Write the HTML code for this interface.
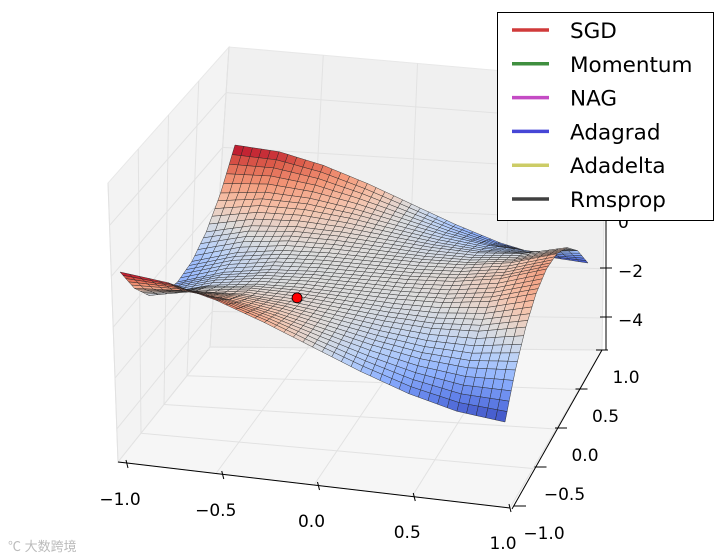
<!DOCTYPE html>
<html><head><meta charset="utf-8"><style>
html,body{margin:0;padding:0;background:#fff;}
svg{display:block;font-family:"DejaVu Sans","Liberation Sans",sans-serif;}
</style></head><body>
<svg id="chart" width="720" height="557" viewBox="0 0 720 557">
<g id="panes"></g>
<g id="surface"></g>
<g id="axes"></g>
<g id="legend"></g>
<text x="8" y="551" font-size="13" fill="#bbb" font-family="'Liberation Sans','Noto Sans CJK SC',sans-serif">℃ 大数跨境</text>
</svg>
<script>
// ---- data ----
const xTicks = [-1.0, -0.5, 0.0, 0.5, 1.0];
const yTicks = [-1.0, -0.5, 0.0, 0.5, 1.0];
const zTicks = [-4, -2, 0];
const gridX = [-1, -0.75, -0.5, -0.25, 0, 0.25, 0.5, 0.75, 1];
const gridY = [-1, -0.75, -0.5, -0.25, 0, 0.25, 0.5, 0.75, 1];
// surface heights: rows = gridY, cols = gridX
const zRowEdge = [2, 1.828, 1.375, 0.734, 0, -0.734, -1.375, -1.828, -2];
const zRow075 = [0.688, 0.844, 0.719, 0.406, 0, -0.406, -0.719, -0.844, -0.688];
const zRow050 = [-0.25, 0.141, 0.25, 0.172, 0, -0.172, -0.25, -0.141, 0.25];
const zRow025 = [-0.813, -0.281, -0.031, 0.031, 0, -0.031, 0.031, 0.281, 0.813];
const zRow000 = [-1, -0.422, -0.125, -0.016, 0, 0.016, 0.125, 0.422, 1];
const zGrid = [zRowEdge, zRow075, zRow050, zRow025, zRow000, zRow025, zRow050, zRow075, zRowEdge];
const pointX = [-0.235];
const pointY = [-0.42];
const pointZ = [0.11];
const legendLabels = ["SGD", "Momentum", "NAG", "Adagrad", "Adadelta", "Rmsprop"];
const legendColors = ["#d03a3a", "#3f8f3f", "#c44bc4", "#4646d6", "#cccc66", "#404040"];

const NS = "http://www.w3.org/2000/svg";
function mk(tag, attrs, parent) {
  const e = document.createElementNS(NS, tag);
  for (const k in attrs) e.setAttribute(k, attrs[k]);
  parent.appendChild(e);
  return e;
}
// projection for surface (with mild perspective cross term)
function proj(x, y, z) {
  return [362 + 184.5 * x + 49.5 * y - 8 * x * y, 275.5 + 18 * x - 71.5 * y - 8 * x * y - 24.5 * z];
}
function lerp(a, b, t) { return [a[0] + (b[0] - a[0]) * t, a[1] + (b[1] - a[1]) * t]; }

// ---- panes ----
const panes = document.getElementById("panes");
const FL = [118, 462], FR = [510, 508], BR = [602, 350], BL = [210, 347];
const TLf = [108, 183], TLb = [229, 47], TRb = [606, 80];
const pl = mk("polygon", {points: [FL, TLf, TLb, BL].map(p => p.join(",")).join(" "), fill: "#f3f3f3", stroke: "#e8e8e8"}, panes);


const pb = mk("polygon", {points: [BL, TLb, TRb, BR].map(p => p.join(",")).join(" "), fill: "#f0f0f0", stroke: "#e8e8e8"}, panes);


const pf = mk("polygon", {points: [FL, FR, BR, BL].map(p => p.join(",")).join(" "), fill: "#f6f6f6", stroke: "#e8e8e8"}, panes);


function gl(a, b, name) {
  const l = mk("line", {x1: a[0], y1: a[1], x2: b[0], y2: b[1], stroke: "#e2e2e2", "stroke-width": 1}, panes);
  
  
}
const ZMIN = -5.3, ZMAX = 5.67;
xTicks.forEach(v => {
  const t = (v + 1) / 2;
  gl(lerp(FL, FR, t), lerp(BL, BR, t), "floor-gridline-x");
  gl(lerp(BL, BR, t), lerp(TLb, TRb, t), "back-gridline-x");
});
yTicks.forEach(v => {
  const t = (v + 1) / 2;
  gl(lerp(FL, BL, t), lerp(FR, BR, t), "floor-gridline-y");
  gl(lerp(FL, BL, t), lerp(TLf, TLb, t), "left-gridline-y");
});
[-4, -2, 0, 2, 4].forEach(v => {
  const f = (v - ZMIN) / (ZMAX - ZMIN);
  const pBL = lerp(BL, TLb, f), pBR = lerp(BR, TRb, f), pFL = lerp(FL, TLf, f);
  gl(pBL, pBR, "back-gridline-z");
  gl(pFL, pBL, "left-gridline-z");
});

// ---- surface ----
function zAt(x, y) {
  const n = gridX.length - 1;
  let fi = (x - gridX[0]) / (gridX[n] - gridX[0]) * n;
  let fj = (y - gridY[0]) / (gridY[n] - gridY[0]) * n;
  let i = Math.min(Math.floor(fi), n - 1), j = Math.min(Math.floor(fj), n - 1);
  const u = fi - i, v = fj - j;
  return zGrid[j][i] * (1 - u) * (1 - v) + zGrid[j][i + 1] * u * (1 - v) +
         zGrid[j + 1][i] * (1 - u) * v + zGrid[j + 1][i + 1] * u * v;
}
const cmapStops = [[59,76,192],[98,130,234],[141,176,254],[184,208,249],[221,221,221],[245,196,173],[244,154,123],[222,96,76],[180,4,38]];
function cmap(t) {
  t = Math.max(0, Math.min(1, t)) * (cmapStops.length - 1);
  const i = Math.min(Math.floor(t), cmapStops.length - 2), f = t - i;
  const a = cmapStops[i], b = cmapStops[i + 1];
  return "rgb(" + [0,1,2].map(k => Math.round(a[k] + (b[k] - a[k]) * f)).join(",") + ")";
}
const surf = document.getElementById("surface");
const N = 40;
const cells = [];
for (let j = 0; j < N; j++) {
  for (let i = 0; i < N; i++) {
    const x0 = -1 + 2 * i / N, x1 = -1 + 2 * (i + 1) / N;
    const y0 = -1 + 2 * j / N, y1 = -1 + 2 * (j + 1) / N;
    const c = [[x0, y0], [x1, y0], [x1, y1], [x0, y1]].map(p => [p[0], p[1], zAt(p[0], p[1])]);
    const zm = (c[0][2] + c[1][2] + c[2][2] + c[3][2]) / 4;
    const xm = (x0 + x1) / 2, ym = (y0 + y1) / 2;
    cells.push({c: c, zm: zm, depth: 78 * ym - 22 * xm - 4 * zm});
  }
}
cells.sort((a, b) => b.depth - a.depth);
cells.forEach(cell => {
  const pts = cell.c.map(p => proj(p[0], p[1], p[2]).map(v => v.toFixed(1)).join(",")).join(" ");
  const poly = mk("polygon", {points: pts, fill: cmap((cell.zm + 2) / 4), stroke: "#222", "stroke-width": 0.5, "stroke-opacity": 0.85}, surf);
  
  
});
pointX.forEach((px, k) => {
  const p = proj(px, pointY[k], pointZ[k]);
  const dot = mk("circle", {cx: p[0], cy: p[1], r: 5, fill: "#ff0000", stroke: "#000", "stroke-width": 0.8}, surf);
  
  
});

// ---- axes ----
const axes = document.getElementById("axes");
function axLine(a, b, name) {
  const l = mk("line", {x1: a[0], y1: a[1], x2: b[0], y2: b[1], stroke: "#000", "stroke-width": 1}, axes);
  
  
}
function label(x, y, s, name) {
  const t = mk("text", {x: x, y: y, "font-size": 17, "text-anchor": "middle", fill: "#000"}, axes);
  t.textContent = s;
  
  
}
function fmt(v) { return (v < 0 ? "\u2212" : "") + Math.abs(v).toFixed(1); }
const XA0 = [127, 464], XA1 = [510, 508];
axLine(FL, XA1, "x-axis-line");
xTicks.forEach(v => {
  const p = lerp(XA0, XA1, (v + 1) / 2);
  axLine([p[0] - 1, p[1] - 4], [p[0] + 1, p[1] + 4], "x-tick");
  label(p[0] - 7, p[1] + 41, fmt(v), "x-tick-label");
});
const YA0 = [520, 506], YA1 = [602, 350];
axLine([512, 509], YA1, "y-axis-line");
yTicks.forEach(v => {
  const p = lerp(YA0, YA1, (v + 1) / 2);
  axLine([p[0] - 6, p[1]], [p[0] + 6, p[1]], "y-tick");
  label(p[0] + 24, p[1] + 33, fmt(v), "y-tick-label");
});
axLine([606, 350], [606, 215], "z-axis-line");
zTicks.forEach(v => {
  const y = 219 - 24.5 * v;
  axLine([600, y], [612, y], "z-tick");
  const t = mk("text", {x: 618, y: y + 9, "font-size": 17, fill: "#000"}, axes);
  t.textContent = v < 0 ? "\u2212" + Math.abs(v) : String(v);
  
  
});

// ---- legend ----
const lg = document.getElementById("legend");
const box = mk("rect", {x: 497.5, y: 12.5, width: 216, height: 208, fill: "#fff", stroke: "#000", "stroke-width": 1}, lg);


legendLabels.forEach((s, k) => {
  const y = 30 + k * 33.8;
  const g = mk("g", {}, lg);
  
  
  const l = mk("line", {x1: 512, y1: y, x2: 549, y2: y, stroke: legendColors[k], "stroke-width": 3.5}, g);
  
  
  const t = mk("text", {x: 570, y: y + 8, "font-size": 21.5, fill: "#000"}, g);
  t.textContent = s;
  
  
});
</script>
</body></html>
